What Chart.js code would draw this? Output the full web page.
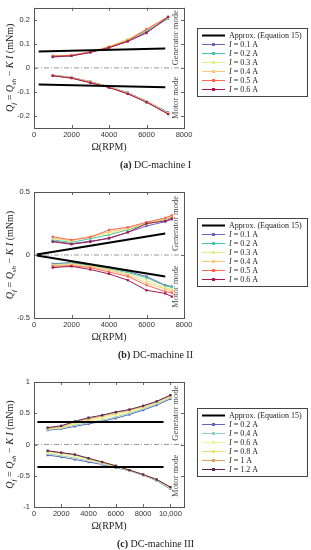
<!DOCTYPE html>
<html><head><meta charset="utf-8">
<script src="https://cdn.jsdelivr.net/npm/chart.js@4.4.0/dist/chart.umd.min.js"></script>
<style>
html,body{margin:0;padding:0;background:#fff;}
#wrap{position:relative;width:311px;height:550px;overflow:hidden;background:#fff;}
canvas{position:absolute;left:0;}
</style></head><body>
<div id="wrap">
<canvas id="ca" style="top:0px" width="311" height="178"></canvas>
<canvas id="cb" style="top:178px" width="311" height="184"></canvas>
<canvas id="cc" style="top:362px" width="311" height="188"></canvas>
</div>
<script>
// ---------- DATA ----------
// (a) DC-machine I
const rpmA = [1000, 2000, 3000, 4000, 5000, 6000, 7150];
const currentsA = ['0.1', '0.2', '0.3', '0.4', '0.5', '0.6'];
const genA = [
  [0.045, 0.050, 0.065, 0.085, 0.110, 0.150, 0.205],
  [0.047, 0.050, 0.066, 0.088, 0.115, 0.155, 0.205],
  [0.048, 0.052, 0.068, 0.090, 0.120, 0.160, 0.210],
  [0.050, 0.053, 0.067, 0.088, 0.118, 0.162, 0.210],
  [0.050, 0.052, 0.066, 0.086, 0.113, 0.160, 0.212],
  [0.046, 0.050, 0.064, 0.084, 0.110, 0.145, 0.212]
];
const motA = [
  [-0.030, -0.040, -0.057, -0.078, -0.103, -0.138, -0.185],
  [-0.030, -0.040, -0.057, -0.078, -0.104, -0.139, -0.187],
  [-0.031, -0.041, -0.058, -0.079, -0.105, -0.140, -0.188],
  [-0.031, -0.041, -0.059, -0.080, -0.106, -0.141, -0.190],
  [-0.032, -0.042, -0.060, -0.081, -0.107, -0.142, -0.191],
  [-0.033, -0.043, -0.062, -0.082, -0.108, -0.143, -0.192]
];
const approxRpmA = [250, 7000];
const approxGenA = [0.068, 0.081];
const approxMotA = [-0.069, -0.081];
const xTicksA = [0, 2000, 4000, 6000, 8000];
const yTicksA = [-0.2, -0.1, 0, 0.1, 0.2];

// (b) DC-machine II
const rpmB = [1000, 2000, 3000, 4000, 5000, 6000, 7000, 7350];
const currentsB = ['0.1', '0.2', '0.3', '0.4', '0.5', '0.6'];
const genB = [
  [0.110, 0.090, 0.110, 0.130, 0.180, 0.230, 0.265, 0.283],
  [0.120, 0.100, 0.130, 0.160, 0.200, 0.245, 0.280, 0.300],
  [0.130, 0.110, 0.150, 0.170, 0.210, 0.250, 0.285, 0.305],
  [0.135, 0.115, 0.150, 0.185, 0.215, 0.255, 0.290, 0.310],
  [0.145, 0.120, 0.140, 0.200, 0.220, 0.260, 0.295, 0.315],
  [0.105, 0.085, 0.105, 0.135, 0.180, 0.250, 0.270, 0.290]
];
const motB = [
  [-0.070, -0.060, -0.080, -0.100, -0.130, -0.170, -0.240, -0.250],
  [-0.075, -0.065, -0.085, -0.110, -0.140, -0.180, -0.245, -0.255],
  [-0.080, -0.070, -0.090, -0.115, -0.150, -0.200, -0.260, -0.270],
  [-0.085, -0.075, -0.095, -0.120, -0.160, -0.220, -0.270, -0.285],
  [-0.090, -0.085, -0.100, -0.135, -0.170, -0.240, -0.290, -0.300],
  [-0.100, -0.090, -0.115, -0.150, -0.200, -0.280, -0.305, -0.330]
];
const approxRpmB = [150, 7000];
const approxGenB = [0.004, 0.170];
const approxMotB = [-0.004, -0.170];
const xTicksB = [0, 2000, 4000, 6000, 8000];
const yTicksB = [-0.5, 0, 0.5];

// (c) DC-machine III
const rpmC = [1000, 2000, 3000, 4000, 5000, 6000, 7000, 8000, 9000, 10000];
const currentsC = ['0.2', '0.4', '0.6', '0.8', '1', '1.2'];
const genC = [
  [0.23, 0.25, 0.29, 0.33, 0.37, 0.42, 0.48, 0.55, 0.63, 0.73],
  [0.24, 0.26, 0.31, 0.35, 0.39, 0.44, 0.50, 0.57, 0.65, 0.75],
  [0.25, 0.27, 0.33, 0.37, 0.42, 0.47, 0.52, 0.59, 0.67, 0.76],
  [0.26, 0.28, 0.34, 0.39, 0.44, 0.49, 0.54, 0.60, 0.68, 0.77],
  [0.26, 0.29, 0.36, 0.41, 0.46, 0.51, 0.55, 0.61, 0.69, 0.78],
  [0.27, 0.30, 0.37, 0.43, 0.47, 0.52, 0.56, 0.62, 0.69, 0.79]
];
const motC = [
  [-0.17, -0.20, -0.24, -0.28, -0.32, -0.37, -0.42, -0.49, -0.58, -0.71],
  [-0.15, -0.18, -0.22, -0.26, -0.31, -0.36, -0.42, -0.49, -0.575, -0.70],
  [-0.13, -0.16, -0.20, -0.25, -0.30, -0.355, -0.415, -0.485, -0.57, -0.695],
  [-0.11, -0.14, -0.17, -0.23, -0.29, -0.35, -0.41, -0.48, -0.565, -0.69],
  [-0.105, -0.135, -0.165, -0.225, -0.285, -0.345, -0.41, -0.48, -0.56, -0.685],
  [-0.10, -0.13, -0.16, -0.22, -0.28, -0.34, -0.41, -0.48, -0.56, -0.68]
];
const approxRpmC = [250, 9500];
const approxGenC = [0.36, 0.36];
const approxMotC = [-0.36, -0.36];
const xTicksC = [0, 2000, 4000, 6000, 8000, 10000];
const yTicksC = [-1, -0.5, 0, 0.5, 1];

// ---------- STYLE ----------
const colorsAB = ['#6c67b3', '#4fc2a3', '#e0ee92', '#fbc97e', '#f36b55', '#a31a4e'];
const colorsC = ['#6465b9', '#93cfc0', '#eef2a2', '#ece07a', '#d9a462', '#5e2a52'];
const SERIF = '"Liberation Serif", "DejaVu Serif", serif';
const SANS = '"Liberation Sans", Arial, sans-serif';
const W = 311, LEFT = 34, RIGHT = 184;

function drawSegments(ctx, segs, x, y, size, align) {
  const fontFor = s => (s.b ? 'bold ' : '') + (s.it ? 'italic ' : '') + (s.sub ? size * 0.7 : size) + 'px ' + SERIF;
  let total = 0;
  segs.forEach(s => { ctx.font = fontFor(s); total += ctx.measureText(s.t).width; });
  let cx = align === 'center' ? x - total / 2 : x;
  ctx.textBaseline = 'alphabetic';
  ctx.textAlign = 'left';
  segs.forEach(s => {
    ctx.font = fontFor(s);
    ctx.fillText(s.t, cx, y + (s.sub ? size * 0.25 : 0));
    cx += ctx.measureText(s.t).width;
  });
}

const decorPlugin = {
  id: 'decor',
  beforeDatasetsDraw(chart) {
    const ctx = chart.ctx, a = chart.chartArea;
    const xs = chart.scales.x, ys = chart.scales.y;
    ctx.save();
    ctx.strokeStyle = '#666'; ctx.lineWidth = 1;
    xs.ticks.forEach(t => {
      const px = Math.round(xs.getPixelForValue(t.value)) + 0.5;
      ctx.beginPath(); ctx.moveTo(px, a.bottom); ctx.lineTo(px, a.bottom - 3);
      ctx.moveTo(px, a.top); ctx.lineTo(px, a.top + 3); ctx.stroke();
    });
    ys.ticks.forEach(t => {
      const py = Math.round(ys.getPixelForValue(t.value)) + 0.5;
      ctx.beginPath(); ctx.moveTo(a.left, py); ctx.lineTo(a.left + 3, py);
      ctx.moveTo(a.right, py); ctx.lineTo(a.right - 3, py); ctx.stroke();
    });
    ctx.restore();
  },
  afterDraw(chart) {
    const o = chart.options.plugins.decor;
    const ctx = chart.ctx, a = chart.chartArea;
    ctx.save();
    ctx.strokeStyle = '#555'; ctx.lineWidth = 1;
    ctx.strokeRect(Math.round(a.left) + 0.5, Math.round(a.top) + 0.5, Math.round(a.right - a.left), Math.round(a.bottom - a.top));
    ctx.fillStyle = '#222';
    // y title
    ctx.save();
    ctx.translate(13, (a.top + a.bottom) / 2);
    ctx.rotate(-Math.PI / 2);
    drawSegments(ctx, [
      {t: 'Q', it: true}, {t: 'f', it: true, sub: true}, {t: ' = '},
      {t: 'Q', it: true}, {t: 'sh', it: true, sub: true}, {t: ' − '},
      {t: 'K I', it: true}, {t: ' (mNm)'}
    ], 0, 0, 10, 'center');
    ctx.restore();
    // x title
    drawSegments(ctx, [{t: 'Ω(RPM)'}], (a.left + a.right) / 2, a.bottom + 22, 10, 'center');
    // caption
    drawSegments(ctx, [{t: o.letter, b: true}, {t: ' ' + o.caption}], W / 2, a.bottom + 40, 10, 'center');
    // mode labels
    const mid = (a.top + a.bottom) / 2;
    ctx.fillStyle = '#444';
    [['Generator mode', (a.top + mid) / 2], ['Motor mode', (mid + a.bottom) / 2]].forEach(([t, cy]) => {
      ctx.save();
      ctx.translate(a.right - 6, cy);
      ctx.rotate(-Math.PI / 2);
      drawSegments(ctx, [{t}], 0, 0, 8.5, 'center');
      ctx.restore();
    });
    // legend
    const lx = 197, lw = 110, rowH = 9, ly = o.legendTop;
    const items = chart.data.datasets.filter(d => d.legendLabel);
    const lh = 14 + rowH * (items.length - 1);
    ctx.fillStyle = '#fff';
    ctx.fillRect(lx, ly, lw, lh);
    ctx.strokeStyle = '#444'; ctx.lineWidth = 1;
    ctx.strokeRect(lx + 0.5, ly + 0.5, lw, lh);
    items.forEach((d, i) => {
      const cy = ly + 7.5 + i * rowH;
      ctx.strokeStyle = d.borderColor;
      ctx.lineWidth = d.borderWidth;
      ctx.beginPath(); ctx.moveTo(202, cy); ctx.lineTo(225, cy); ctx.stroke();
      if (d.pointRadius > 0) {
        ctx.fillStyle = d.borderColor;
        ctx.fillRect(212, cy - 1.5, 3, 3);
      }
      ctx.fillStyle = '#222';
      if (d.legendItalicI) {
        drawSegments(ctx, [{t: 'I', it: true}, {t: ' = ' + d.legendLabel + ' A'}], 229, cy + 2.8, 8, 'left');
      } else {
        drawSegments(ctx, [{t: d.legendLabel}], 229, cy + 2.8, 8, 'left');
      }
    });
    ctx.restore();
  }
};

function makeChart(id, p) {
  const datasets = [];
  datasets.push({
    data: [{x: 0, y: 0}, {x: p.xMax, y: 0}], borderColor: '#9a9a9a', borderWidth: 1,
    borderDash: [5, 2, 1, 2], pointRadius: 0, order: 10
  });
  datasets.push({
    legendLabel: 'Approx. (Equation 15)',
    data: p.approxRpm.map((x, i) => ({x, y: p.approxGen[i]})),
    borderColor: '#000', borderWidth: 2, pointRadius: 0, order: 0
  });
  datasets.push({
    data: p.approxRpm.map((x, i) => ({x, y: p.approxMot[i]})),
    borderColor: '#000', borderWidth: 2, pointRadius: 0, order: 0
  });
  p.currents.forEach((c, k) => {
    const col = p.colors[k];
    const common = {borderColor: col, backgroundColor: col, borderWidth: 1, pointRadius: 1.6,
      pointStyle: 'rect', pointBorderWidth: 0, pointBackgroundColor: col, order: 5 - k * 0.1};
    datasets.push(Object.assign({legendLabel: c, legendItalicI: true,
      data: p.rpm.map((x, i) => ({x, y: p.gen[k][i]}))}, common));
    datasets.push(Object.assign({
      data: p.rpm.map((x, i) => ({x, y: p.mot[k][i]}))}, common));
  });
  const canvas = document.getElementById(id);
  return new Chart(canvas, {
    type: 'line',
    data: {datasets},
    plugins: [decorPlugin],
    options: {
      responsive: false, animation: false, devicePixelRatio: 1,
      layout: {padding: {top: p.top, right: W - RIGHT, bottom: 0, left: 0}},
      plugins: {legend: {display: false}, tooltip: {enabled: false},
        decor: {letter: p.letter, caption: p.caption, legendTop: p.legendTop}},
      elements: {line: {tension: 0}},
      scales: {
        x: {
          type: 'linear', min: 0, max: p.xMax,
          afterBuildTicks: s => { s.ticks = p.xTicks.map(v => ({value: v})); },
          afterFit: s => { s.height = canvas.height - p.bottom; },
          grid: {display: false, drawTicks: false},
          border: {display: false},
          ticks: {padding: 3, maxRotation: 0, autoSkip: false, color: '#333',
            font: {family: SANS, size: 7.5, lineHeight: 1},
            callback: v => v >= 10000 ? v.toLocaleString('en-US') : String(v)}
        },
        y: {
          min: p.yMin, max: p.yMax,
          afterBuildTicks: s => { s.ticks = p.yTicks.map(v => ({value: v})); },
          afterFit: s => { s.width = LEFT; },
          grid: {display: false, drawTicks: false},
          border: {display: false},
          ticks: {padding: 4, autoSkip: false, color: '#333',
            font: {family: SANS, size: 7.5, lineHeight: 1},
            callback: v => String(v)}
        }
      }
    }
  });
}

makeChart('ca', {rpm: rpmA, currents: currentsA, gen: genA, mot: motA, colors: colorsAB,
  approxRpm: approxRpmA, approxGen: approxGenA, approxMot: approxMotA,
  xMax: 8000, yMin: -0.25, yMax: 0.25, xTicks: xTicksA, yTicks: yTicksA,
  top: 4, bottom: 128, letter: '(a)', caption: 'DC-machine I', legendTop: 28});
makeChart('cb', {rpm: rpmB, currents: currentsB, gen: genB, mot: motB, colors: colorsAB,
  approxRpm: approxRpmB, approxGen: approxGenB, approxMot: approxMotB,
  xMax: 8000, yMin: -0.5, yMax: 0.5, xTicks: xTicksB, yTicks: yTicksB,
  top: 14, bottom: 140, letter: '(b)', caption: 'DC-machine II', legendTop: 40});
makeChart('cc', {rpm: rpmC, currents: currentsC, gen: genC, mot: motC, colors: colorsC,
  approxRpm: approxRpmC, approxGen: approxGenC, approxMot: approxMotC,
  xMax: 11000, yMin: -1, yMax: 1, xTicks: xTicksC, yTicks: yTicksC,
  top: 20, bottom: 145, letter: '(c)', caption: 'DC-machine III', legendTop: 46});
</script>
</body></html>
